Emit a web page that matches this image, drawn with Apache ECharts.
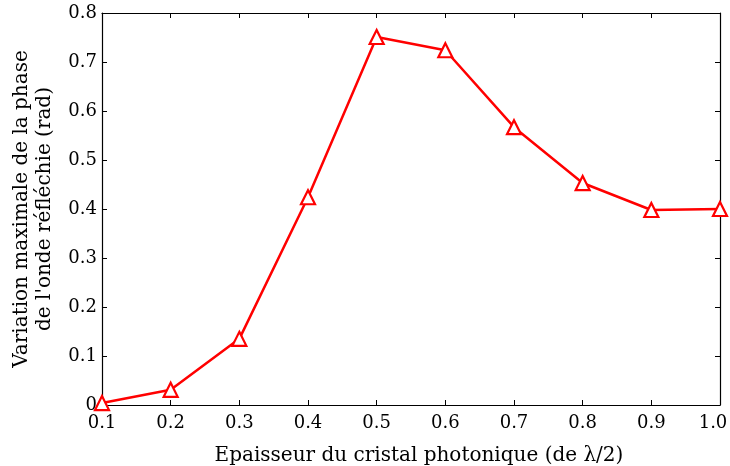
<!DOCTYPE html>
<html><head><meta charset="utf-8">
<script src="https://cdn.jsdelivr.net/npm/echarts@6/dist/echarts.min.js"></script>
<style>html,body{margin:0;padding:0;background:#fff}#c{width:730px;height:466px}</style>
</head><body><div id="c"></div>
<script>
const xValues = [0.1, 0.2, 0.3, 0.4, 0.5, 0.6, 0.7, 0.8, 0.9, 1.0];
const yValues = [0.004, 0.031, 0.135, 0.424, 0.751, 0.724, 0.567, 0.453, 0.398, 0.400];
const xTitle = 'Epaisseur du cristal photonique (de λ/2)';
const yTitle = "Variation maximale de la phase\nde l'onde réfléchie (rad)";

const font = 'DejaVu Serif';
const chart = echarts.init(document.getElementById('c'));
const axisLine = {show: true, onZero: false, lineStyle: {color: '#000', width: 1.2}};
const tick = {show: true, inside: true, length: 5, lineStyle: {color: '#000'}};
chart.setOption({
  animation: false,
  grid: {left: 102, right: 10, top: 13, bottom: 61, outerBoundsMode: 'none', containLabel: false},
  xAxis: [{
    type: 'value', min: 0.1, max: 1.0, interval: 0.1,
    axisLine, axisTick: tick, splitLine: {show: false},
    axisLabel: {color: '#000', fontFamily: font, fontSize: 18, margin: 9,
      formatter: v => Math.abs(v - 1) < 1e-9 ? '{last|' + v.toFixed(1) + '}' : v.toFixed(1),
      rich: {last: {fontFamily: font, fontSize: 18, color: '#000', padding: [0, 14, 0, 0]}}},
    name: xTitle, nameLocation: 'middle', nameGap: 41,
    nameTextStyle: {color: '#000', fontFamily: font, fontSize: 20, padding: [0, 0, 0, 16]}
  }, {
    type: 'value', position: 'top', min: 0.1, max: 1.0, interval: 0.1,
    axisLine, axisTick: tick, axisLabel: {show: false}, splitLine: {show: false}
  }],
  yAxis: [{
    type: 'value', min: 0, max: 0.8, interval: 0.1,
    axisLine, axisTick: tick, splitLine: {show: false},
    axisLabel: {color: '#000', fontFamily: font, fontSize: 18, margin: 5,
      formatter: v => v === 0 ? '0' : v.toFixed(1)},
    name: yTitle, nameLocation: 'middle', nameGap: 46,
    nameTextStyle: {color: '#000', fontFamily: font, fontSize: 20, lineHeight: 23}
  }, {
    type: 'value', position: 'right', min: 0, max: 0.8, interval: 0.1,
    axisLine, axisTick: tick, axisLabel: {show: false}, splitLine: {show: false}
  }],
  series: [{
    type: 'line',
    data: xValues.map((x, i) => [x, yValues[i]]),
    symbol: 'triangle', symbolSize: 14, showAllSymbol: true,
    lineStyle: {color: '#ff0000', width: 2.5},
    itemStyle: {color: '#fff', borderColor: '#ff0000', borderWidth: 2.2},
    clip: false
  }]
});
</script></body></html>
